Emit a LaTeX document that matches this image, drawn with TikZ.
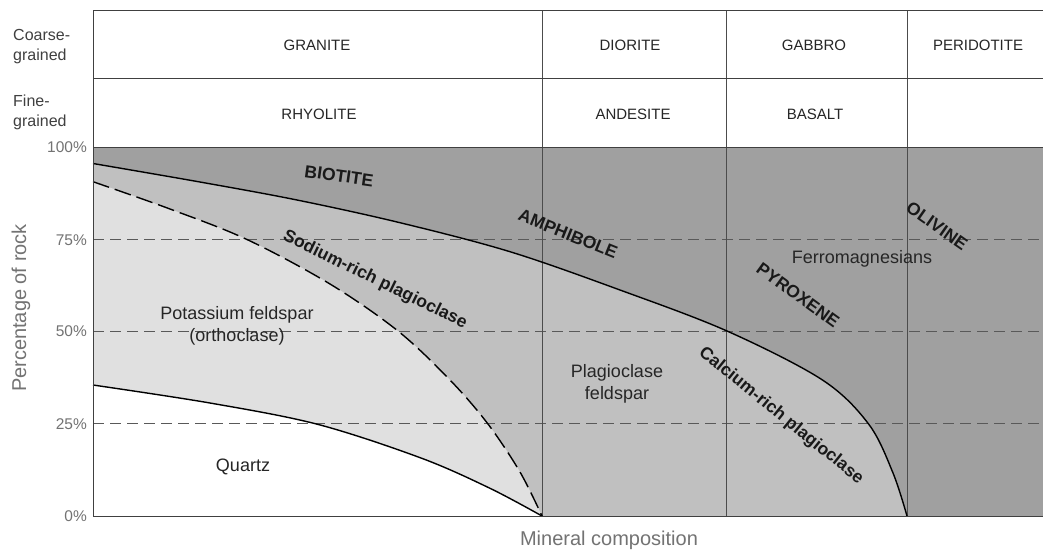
\documentclass[tikz,border=0pt]{standalone}
\usepackage{fontspec}
\setmainfont{Liberation Sans}
\definecolor{ferro}{RGB}{160,160,160}
\definecolor{plag}{RGB}{192,192,192}
\definecolor{kfeld}{RGB}{224,224,224}
\begin{document}
\begin{tikzpicture}[x=1pt,y=-1pt,
  hdr/.style={font=\fontsize{15}{18}\selectfont, text=black!85},
  lbl/.style={font=\fontsize{18}{22}\selectfont, text=black!85, align=center},
  mineral/.style={font=\fontsize{17.5}{20}\selectfont\bfseries, text=black!90, inner sep=1pt},
  pct/.style={font=\fontsize{15.5}{18}\selectfont, text=black!55, anchor=east, inner sep=1pt},
  axistitle/.style={font=\fontsize{20}{24}\selectfont, text=black!55},
  side/.style={font=\fontsize{16}{20}\selectfont, text=black!75, align=left, anchor=west, inner sep=0pt},
  gridline/.style={draw=black!65, dash pattern=on 11pt off 6pt, line width=0.7pt},
  vline/.style={draw=black!70, line width=0.6pt},
  frameline/.style={draw=black!75, line width=0.8pt},
  curve/.style={draw=black, line width=1.4pt},
  dcurve/.style={draw=black, line width=1.4pt, dash pattern=on 17pt off 6pt},
]
\useasboundingbox (0,0) rectangle (1043,550);
\fill[white] (0,0) rectangle (1043,550);

% regions
\fill[ferro] (93,147) rectangle (1043,516);
\fill[plag] (93,516) -- plot[smooth, tension=0.55] coordinates {(93,163.5) (200,182) (297,200) (400,222.7) (510,251.7) (620,290) (727,331) (822.5,380) (868.8,424.3) (893,473) (907,516)} -- cycle;
\fill[kfeld] (93,516) -- plot[smooth, tension=0.55] coordinates {(93,181.7) (170,209) (247,239.5) (330,284) (398,331) (450,380) (488,424) (520,472) (542,516)} -- cycle;
\fill[white] (93,516) -- plot[smooth, tension=0.55] coordinates {(93,385) (210,403) (317.6,424.3) (421,458) (490,488.3) (542,516)} -- cycle;

% grid lines
\draw[gridline] (93,239.25) -- (1043,239.25);
\draw[gridline] (93,331.5) -- (1043,331.5);
\draw[gridline] (93,423.75) -- (1043,423.75);

% vertical column lines
\draw[vline] (542,10) -- (542,516);
\draw[vline] (726,10) -- (726,516);
\draw[vline] (907,10) -- (907,516);

% curves
\draw[curve] plot[smooth, tension=0.55] coordinates {(93,163.5) (200,182) (297,200) (400,222.7) (510,251.7) (620,290) (727,331) (822.5,380) (868.8,424.3) (893,473) (907,516)};
\draw[dcurve] plot[smooth, tension=0.55] coordinates {(93,181.7) (170,209) (247,239.5) (330,284) (398,331) (450,380) (488,424) (520,472) (542,516)};
\draw[curve] plot[smooth, tension=0.55] coordinates {(93,385) (210,403) (317.6,424.3) (421,458) (490,488.3) (542,516)};

% frame
\draw[frameline] (1043,10) -- (93,10) -- (93,516) -- (1043,516);
\draw[frameline] (93,78) -- (1043,78);
\draw[frameline] (93,147) -- (1043,147);

% header texts
\node[side] (coarse) at (13,47) {Coarse-\\grained};
\node[side] (fine) at (13,112) {Fine-\\grained};
\node[hdr] (granite) at (317,45) {GRANITE};
\node[hdr] (diorite) at (630,45) {DIORITE};
\node[hdr] (gabbro) at (814,45) {GABBRO};
\node[hdr] (peridotite) at (978,45) {PERIDOTITE};
\node[hdr] (rhyolite) at (319,114) {RHYOLITE};
\node[hdr] (andesite) at (633,114) {ANDESITE};
\node[hdr] (basalt) at (815,114) {BASALT};

% percent labels
\node[pct] (p100) at (88,147) {100\%};
\node[pct] (p75) at (88,240) {75\%};
\node[pct] (p50) at (88,331) {50\%};
\node[pct] (p25) at (88,424) {25\%};
\node[pct] (p0) at (88,516) {0\%};

% axis titles
\node[axistitle, rotate=90] (ytitle) at (21,308) {Percentage of rock};
\node[axistitle] (xtitle) at (609,540) {Mineral composition};

% region labels
\node[lbl] (kfs) at (237,326) {Potassium feldspar\\(orthoclase)};
\node[lbl] (quartz) at (243,467) {Quartz};
\node[lbl] (plagfs) at (617,384) {Plagioclase\\feldspar};
\node[lbl] (ferromag) at (862,259) {Ferromagnesians};

% mineral labels
\node[mineral, rotate=-8] (biotite) at (339,176) {BIOTITE};
\node[mineral, rotate=-26] (narich) at (375,280) {Sodium-rich plagioclase};
\node[mineral, rotate=-22] (amph) at (568,234) {AMPHIBOLE};
\node[mineral, rotate=-36] (pyrox) at (798,295) {PYROXENE};
\node[mineral, rotate=-35] (olivine) at (937,226) {OLIVINE};
\node[mineral, rotate=-39] (carich) at (781,416) {Calcium-rich plagioclase};
\end{tikzpicture}
\end{document}
